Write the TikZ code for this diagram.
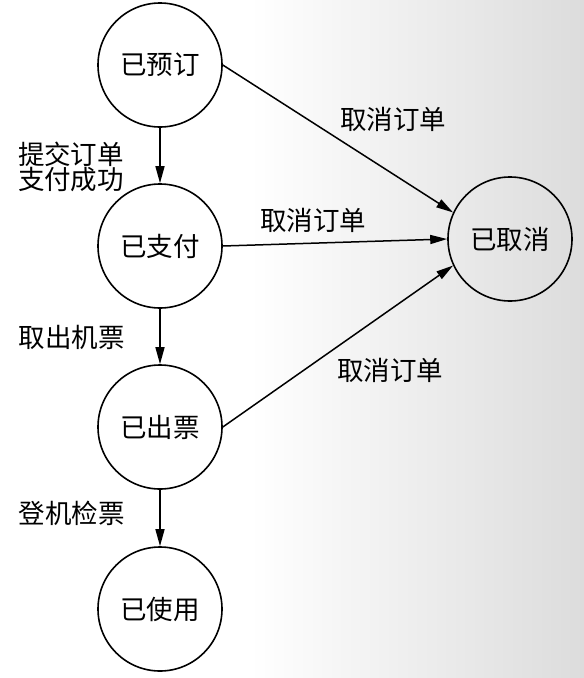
\documentclass[tikz,border=0pt]{standalone}
\usepackage{fontspec}
\setmainfont{Noto Sans CJK SC}
\usetikzlibrary{arrows.meta}
\definecolor{bggray}{RGB}{220,220,220}
\begin{document}
\begin{tikzpicture}[x=1pt,y=-1pt,
  state/.style={circle,draw,line width=1.6pt,minimum size=124pt,inner sep=0pt,font=\fontsize{26.5}{28}\selectfont},
  lbl/.style={font=\fontsize{26.5}{28}\selectfont,inner sep=0pt,align=left},
  conn/.style={line width=1.5pt,-{Triangle[length=17pt,width=9pt]}}]
\useasboundingbox (0,0) rectangle (584,678);
\fill[white] (0,0) rectangle (250,678);
\shade[left color=white,right color=bggray] (250,0) rectangle (584,678);
\node[state] (a) at (160,65) {已预订};
\node[state] (b) at (160,246) {已支付};
\node[state] (c) at (160,427) {已出票};
\node[state] (d) at (160,609) {已使用};
\node[state] (x) at (510,239) {已取消};
\node[lbl] (l1) at (71,167) {提交订单\\[-3pt]支付成功};
\node[lbl] (l2) at (72,337) {取出机票};
\node[lbl] (l3) at (72,513) {登机检票};
\node[lbl] (m1) at (393,119) {取消订单};
\node[lbl] (m2) at (313,220) {取消订单};
\node[lbl] (m3) at (390,370) {取消订单};
\draw[conn] (a.south) -- (b.north);
\draw[conn] (b.south) -- (c.north);
\draw[conn] (c.south) -- (d.north);
\draw[conn] (a.east) -- (x.155);
\draw[conn] (b.east) -- (x.west);
\draw[conn] (c.east) -- (x.205);
\end{tikzpicture}
\end{document}
